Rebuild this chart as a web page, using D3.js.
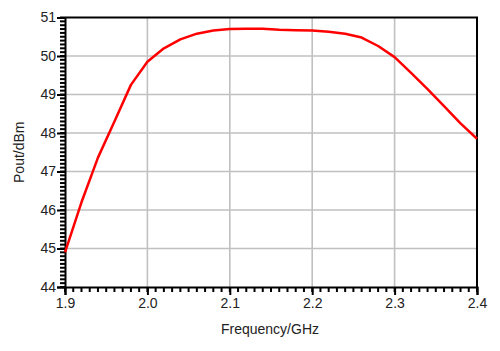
<!DOCTYPE html>
<html lang="en">
<head>
<meta charset="utf-8">
<title>Pout vs Frequency</title>
<script src="https://d3js.org/d3.v7.min.js"></script>
<style>
  body { margin: 0; background: #fff; }
  .axis text { font: 14px "Liberation Sans", Arial, sans-serif; fill: #222; }
  .title { font: 14px "Liberation Sans", Arial, sans-serif; fill: #222; }
</style>
</head>
<body>
<div id="graph"></div>
<script>
// frequency (GHz) and output power (dBm)
var freq = [1.90, 1.92, 1.94, 1.96, 1.98, 2.00, 2.02, 2.04, 2.06, 2.08, 2.10, 2.12, 2.14,
            2.16, 2.18, 2.20, 2.22, 2.24, 2.26, 2.28, 2.30, 2.32, 2.34, 2.36, 2.38, 2.40];
var pout = [44.9, 46.2, 47.36, 48.3, 49.25, 49.85, 50.2, 50.43, 50.58, 50.66, 50.7, 50.71, 50.71,
            50.68, 50.67, 50.66, 50.63, 50.58, 50.48, 50.26, 49.97, 49.56, 49.14, 48.7, 48.25, 47.85];
var xTicks = [1.9, 2.0, 2.1, 2.2, 2.3, 2.4];
var yTicks = [44, 45, 46, 47, 48, 49, 50, 51];

var W = 500, H = 351;
var margin = { top: 17.5, right: 23, bottom: 64, left: 65 },
    width = W - margin.left - margin.right,
    height = H - margin.top - margin.bottom;

var x = d3.scaleLinear().domain([1.9, 2.4]).range([0, width]);
var y = d3.scaleLinear().domain([44, 51]).range([height, 0]);

var svg = d3.select("#graph").append("svg")
    .attr("width", W).attr("height", H)
  .append("g")
    .attr("transform", "translate(" + margin.left + "," + margin.top + ")");

// grid
svg.append("g").selectAll("line").data(xTicks.slice(1, -1)).enter().append("line")
    .attr("x1", d => x(d)).attr("x2", d => x(d))
    .attr("y1", 0).attr("y2", height)
    .attr("stroke", "#c0c0c0").attr("stroke-width", 1.6);
svg.append("g").selectAll("line").data(yTicks.slice(1, -1)).enter().append("line")
    .attr("x1", 0).attr("x2", width)
    .attr("y1", d => y(d)).attr("y2", d => y(d))
    .attr("stroke", "#c0c0c0").attr("stroke-width", 1.6);

// frame top / right
svg.append("path")
    .attr("d", "M0,0H" + width + "V" + height)
    .attr("fill", "none").attr("stroke", "#000").attr("stroke-width", 2);

// major axes
var xMajor = svg.append("g").attr("class", "axis")
    .attr("transform", "translate(0," + height + ")")
    .call(d3.axisBottom(x).tickValues(xTicks).tickSize(8).tickPadding(3).tickFormat(d3.format(".1f")));
var yMajor = svg.append("g").attr("class", "axis")
    .call(d3.axisLeft(y).tickValues(yTicks).tickSize(8).tickPadding(1).tickFormat(d3.format("d")));
svg.selectAll(".axis .tick line").attr("stroke", "#000").attr("stroke-width", 2);
svg.selectAll(".axis .domain").attr("stroke", "#000").attr("stroke-width", 2);

// minor ticks (10 per major division)
var xMinor = d3.range(0, 51).map(i => 1.9 + i * 0.01);
var yMinor = d3.range(0, 71).map(i => 44 + i * 0.1);

svg.append("g").selectAll("line").data(xMinor).enter().append("line")
    .attr("x1", d => x(d)).attr("x2", d => x(d))
    .attr("y1", height).attr("y2", height + 5)
    .attr("stroke", "#000").attr("stroke-width", 2);
svg.append("g").selectAll("line").data(yMinor).enter().append("line")
    .attr("x1", -5).attr("x2", 0)
    .attr("y1", d => y(d)).attr("y2", d => y(d))
    .attr("stroke", "#000").attr("stroke-width", 2);

// curve
var line = d3.line()
    .x((d, i) => x(freq[i]))
    .y(d => y(d));
svg.append("path")
    .datum(pout)
    .attr("d", line)
    .attr("fill", "none")
    .attr("stroke", "#ff0000")
    .attr("stroke-width", 2.5)
    .attr("stroke-linejoin", "round");

// titles
svg.append("text").attr("class", "title")
    .attr("x", width / 2 - 1).attr("y", height + 47)
    .attr("text-anchor", "middle")
    .text("Frequency/GHz");
svg.append("text").attr("class", "title")
    .attr("transform", "translate(" + (-41) + "," + (height / 2) + ") rotate(-90)")
    .attr("text-anchor", "middle")
    .text("Pout/dBm");
</script>
</body>
</html>
